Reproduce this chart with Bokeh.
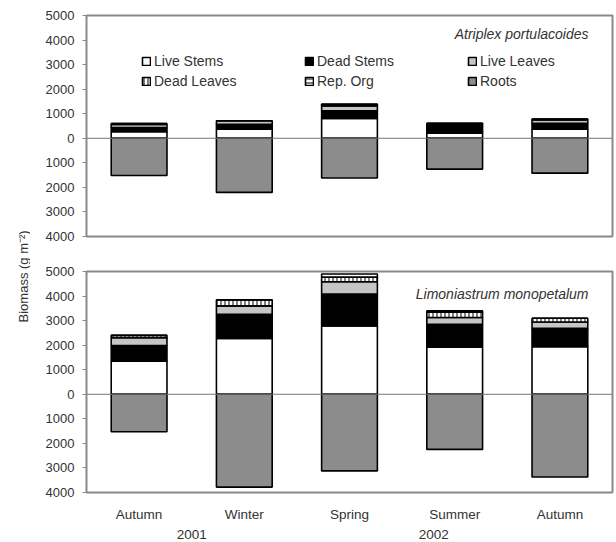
from math import pi

from bokeh.embed import file_html
from bokeh.layouts import column, row
from bokeh.models import (ColumnDataSource, CustomJSTickFormatter, FixedTicker,
                          Label, Legend, LegendItem, LinearAxis, Range1d, Span)
from bokeh.plotting import figure
from bokeh.resources import INLINE

# Sampling dates (x positions 0..4) and the year captions below them
seasons = ["Autumn", "Winter", "Spring", "Summer", "Autumn"]
year_labels = ["2001", "2002"]
year_positions = [0.5, 2.8]
y_ticks = [-4000, -3000, -2000, -1000, 0, 1000, 2000, 3000, 4000, 5000]

# Atriplex portulacoides biomass (g m-2)
ap_live_stems = [270, 365, 810, 210, 365]
ap_dead_stems = [170, 200, 310, 330, 245]
ap_live_leaves = [120, 150, 200, 50, 135]
ap_dead_leaves = [40, 0, 50, 20, 40]
ap_rep_org = [0, 0, 20, 0, 0]
ap_roots = [1515, 2205, 1620, 1255, 1420]

# Limoniastrum monopetalum biomass (g m-2)
lm_live_stems = [1345, 2275, 2780, 1920, 1935]
lm_dead_stems = [640, 985, 1300, 930, 750]
lm_live_leaves = [315, 340, 505, 275, 260]
lm_dead_leaves = [100, 245, 180, 220, 150]
lm_rep_org = [0, 0, 135, 50, 0]
lm_roots = [1525, 3780, 3120, 2245, 3370]

FONT = "Liberation Sans"
TEXT = "#333333"
FRAME = "#8a8a8a"
BAR_W = 0.53

layers = ["live_stems", "dead_stems", "live_leaves", "dead_leaves", "rep_org"]
fills = ["white", "black", "#c6c6c6", "white", "white"]
hatches = [" ", " ", " ", "|", "-"]
names = ["Live Stems", "Dead Stems", "Live Leaves", "Dead Leaves", "Rep. Org"]


def panel(species, live_stems, dead_stems, live_leaves, dead_leaves, rep_org, roots,
          height, border_top, border_bottom, title_offset, with_legend, with_xaxis):
    src = ColumnDataSource(dict(
        x=list(range(len(seasons))),
        live_stems=live_stems, dead_stems=dead_stems, live_leaves=live_leaves,
        dead_leaves=dead_leaves, rep_org=rep_org,
        neg_roots=[-r for r in roots],
    ))
    p = figure(width=586, height=height, output_backend="svg", toolbar_location=None,
               x_range=Range1d(-0.5, 4.5), y_range=Range1d(-4000, 5000),
               x_axis_location="below" if with_xaxis else None,
               min_border_left=56, min_border_right=4,
               min_border_top=border_top, min_border_bottom=border_bottom)
    p.grid.visible = False
    p.outline_line_color = FRAME
    p.outline_line_width = 2
    p.background_fill_color = "white"
    p.border_fill_color = "white"

    stack = p.vbar_stack(layers, x="x", width=BAR_W, source=src,
                         fill_color=fills, hatch_pattern=hatches,
                         hatch_color="black", hatch_scale=4, hatch_weight=1,
                         line_color="black", line_width=1.6)
    roots_r = p.vbar(x="x", top=0, bottom="neg_roots", width=BAR_W, source=src,
                     fill_color="#8c8c8c", line_color="black", line_width=1.6)

    p.add_layout(Span(location=0, dimension="width", line_color="#777777",
                      line_width=1))

    yax = p.yaxis[0]
    yax.ticker = FixedTicker(ticks=y_ticks)
    yax.formatter = CustomJSTickFormatter(code="return Math.abs(tick).toString()")
    yax.axis_line_color = None
    yax.major_tick_line_color = FRAME
    yax.major_tick_in = 0
    yax.major_tick_out = 4
    yax.minor_tick_line_color = None
    yax.major_label_text_font = FONT
    yax.major_label_text_font_size = "13px"
    yax.major_label_text_color = TEXT
    yax.major_label_standoff = 8

    p.add_layout(Label(x=502, y=height - border_top - border_bottom - title_offset,
                       x_units="screen", y_units="screen", text=species,
                       text_font=FONT, text_font_style="italic",
                       text_font_size="14px", text_color=TEXT,
                       text_align="right", text_baseline="middle"))

    if with_xaxis:
        xax = p.xaxis[0]
        xax.ticker = FixedTicker(ticks=list(range(len(seasons))))
        xax.major_label_overrides = {i: s for i, s in enumerate(seasons)}
        xax.axis_line_color = None
        xax.major_tick_line_color = None
        xax.minor_tick_line_color = None
        xax.major_label_text_font = FONT
        xax.major_label_text_font_size = "13.5px"
        xax.major_label_text_color = TEXT
        xax.major_label_standoff = 8

        yrs = LinearAxis(ticker=FixedTicker(ticks=year_positions),
                         major_label_overrides={v: t for v, t in zip(year_positions, year_labels)})
        yrs.axis_line_color = None
        yrs.major_tick_line_color = None
        yrs.minor_tick_line_color = None
        yrs.major_label_text_font = FONT
        yrs.major_label_text_font_size = "13.5px"
        yrs.major_label_text_color = TEXT
        yrs.major_label_standoff = -1
        p.add_layout(yrs, "below")

    if with_legend:
        rs = list(stack) + [roots_r]
        labels = names + ["Roots"]
        items = [LegendItem(label=lab, renderers=[r]) for lab, r in zip(labels, rs)]
        leg = Legend(items=items, orientation="horizontal", ncols=3,
                     location=(55, 145), padding=0, margin=0, spacing=0,
                     glyph_width=10, glyph_height=10, label_standoff=3,
                     label_width=150, label_height=20,
                     label_text_font=FONT, label_text_font_size="14px",
                     label_text_color=TEXT, border_line_color=None,
                     background_fill_alpha=0)
        p.add_layout(leg)
    return p


top = panel("Atriplex portulacoides", ap_live_stems, ap_dead_stems, ap_live_leaves,
            ap_dead_leaves, ap_rep_org, ap_roots,
            height=250, border_top=15, border_bottom=14, title_offset=18,
            with_legend=True, with_xaxis=False)
bottom = panel("Limoniastrum monopetalum", lm_live_stems, lm_dead_stems, lm_live_leaves,
               lm_dead_leaves, lm_rep_org, lm_roots,
               height=292, border_top=21, border_bottom=50, title_offset=22,
               with_legend=False, with_xaxis=True)

# Shared y-axis title
ylab = figure(width=30, height=542, output_backend="svg", toolbar_location=None,
              x_range=Range1d(0, 1), y_range=Range1d(0, 1),
              x_axis_location=None, y_axis_location=None,
              min_border=0, outline_line_color=None)
ylab.grid.visible = False
ylab.add_layout(Label(x=0.75, y=0.491, text="Biomass (g m\u207b\u00b2)", angle=pi / 2,
                      text_font=FONT, text_font_size="13px",
                      text_color=TEXT, text_align="center", text_baseline="middle"))

layout = row(ylab, column(top, bottom, spacing=0), spacing=0)
open("out.html", "w").write(file_html(layout, INLINE))
